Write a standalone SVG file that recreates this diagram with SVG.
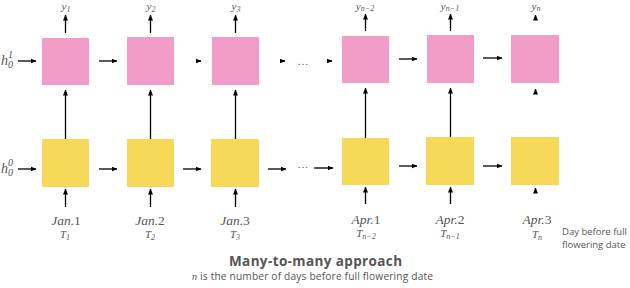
<svg xmlns="http://www.w3.org/2000/svg" width="630" height="288" viewBox="0 0 630 288">
<defs>
<marker id="ah" markerUnits="userSpaceOnUse" markerWidth="6" markerHeight="6" refX="5.5" refY="3" orient="auto">
<path d="M0,0.5 L6,3 L0,5.5 z" fill="#000"/>
</marker>
<style>
.pink{fill:#F29CC8}
.yel{fill:#F7D95A}
.ar{stroke:#000;stroke-width:1.3;fill:none;marker-end:url(#ah)}
.m{font-family:'Liberation Serif',serif;font-style:italic;fill:#555;text-anchor:middle}
.hl{font-family:'Liberation Serif',serif;font-style:italic;fill:#555;font-size:14px}
.lab{font-size:13.5px}
.sm{font-size:11px}
.sub{font-size:8px}
.hs{font-size:10px}
.up{font-style:normal}
.sans{font-family:'Open Sans','Noto Sans',sans-serif;fill:#555}
.dots{font-family:'Liberation Serif',serif;font-size:11px;fill:#555;text-anchor:middle}
</style>
</defs>
<rect width="630" height="288" fill="#fff"/>

<g id="h1"><text class="hl" x="1" y="65">h<tspan class="hs" dy="3">0</tspan><tspan class="hs" dx="-5" dy="-10">1</tspan></text></g>
<g id="h0"><text class="hl" x="1" y="173">h<tspan class="hs" dy="3">0</tspan><tspan class="hs" dx="-5" dy="-10">0</tspan></text></g>

<g id="p1"><rect class="pink" x="42" y="38" width="47" height="47"/></g>
<g id="p2"><rect class="pink" x="127" y="37" width="47" height="48"/></g>
<g id="p3"><rect class="pink" x="212" y="37" width="47" height="48"/></g>
<g id="p4"><rect class="pink" x="342" y="36" width="47" height="47"/></g>
<g id="p5"><rect class="pink" x="427" y="35" width="47" height="48"/></g>
<g id="p6"><rect class="pink" x="511" y="35" width="48" height="48"/></g>

<g id="y1"><rect class="yel" x="42" y="139" width="47" height="48"/></g>
<g id="y2"><rect class="yel" x="127" y="139" width="47" height="48"/></g>
<g id="y3"><rect class="yel" x="211" y="139" width="48" height="48"/></g>
<g id="y4"><rect class="yel" x="342" y="138" width="47" height="47"/></g>
<g id="y5"><rect class="yel" x="426" y="137" width="48" height="48"/></g>
<g id="y6"><rect class="yel" x="511" y="137" width="48" height="48"/></g>

<g id="connectors">
<line class="ar" x1="18" y1="61" x2="36" y2="61"/>
<line class="ar" x1="99" y1="61" x2="117" y2="61"/>
<line class="ar" x1="199" y1="61" x2="201" y2="61"/>
<line class="ar" x1="283" y1="61" x2="285" y2="61"/>
<line class="ar" x1="330" y1="61" x2="332" y2="61"/>
<line class="ar" x1="399" y1="59" x2="417" y2="59"/>
<line class="ar" x1="483" y1="58" x2="502" y2="58"/>
<line class="ar" x1="18" y1="169" x2="36" y2="169"/>
<line class="ar" x1="99" y1="169" x2="117" y2="169"/>
<line class="ar" x1="183" y1="169" x2="201" y2="169"/>
<line class="ar" x1="268" y1="169" x2="286" y2="169"/>
<line class="ar" x1="314" y1="168" x2="333" y2="168"/>
<line class="ar" x1="399" y1="166" x2="417" y2="166"/>
<line class="ar" x1="483" y1="166" x2="502" y2="166"/>
<line class="ar" x1="65.5" y1="139" x2="65.5" y2="90"/>
<line class="ar" x1="150.5" y1="139" x2="150.5" y2="90"/>
<line class="ar" x1="235.5" y1="139" x2="235.5" y2="90"/>
<line class="ar" x1="365.5" y1="138" x2="365.5" y2="88"/>
<line class="ar" x1="450.5" y1="137" x2="450.5" y2="88"/>
<line class="ar" x1="535.5" y1="92" x2="535.5" y2="89"/>
<line class="ar" x1="65.5" y1="33" x2="65.5" y2="15"/>
<line class="ar" x1="150.5" y1="33" x2="150.5" y2="15"/>
<line class="ar" x1="235.5" y1="33" x2="235.5" y2="15"/>
<line class="ar" x1="365.5" y1="31" x2="365.5" y2="14"/>
<line class="ar" x1="450.5" y1="31" x2="450.5" y2="14"/>
<line class="ar" x1="535.5" y1="18" x2="535.5" y2="15"/>
<line class="ar" x1="65.5" y1="207" x2="65.5" y2="189"/>
<line class="ar" x1="150.5" y1="207" x2="150.5" y2="189"/>
<line class="ar" x1="235.5" y1="207" x2="235.5" y2="189"/>
<line class="ar" x1="365.5" y1="204" x2="365.5" y2="187"/>
<line class="ar" x1="450.5" y1="204" x2="450.5" y2="187"/>
<line class="ar" x1="535.5" y1="191" x2="535.5" y2="188"/>
</g>

<text class="dots" x="303" y="65">…</text>
<text class="dots" x="303" y="168">…</text>

<text class="m sm" x="66" y="10">y<tspan class="sub" dy="2">1</tspan></text>
<text class="m sm" x="151" y="10">y<tspan class="sub" dy="2">2</tspan></text>
<text class="m sm" x="236" y="10">y<tspan class="sub" dy="2">3</tspan></text>
<text class="m sm" x="365" y="10">y<tspan class="sub" dy="1">n−2</tspan></text>
<text class="m sm" x="450" y="10">y<tspan class="sub" dy="1">n−1</tspan></text>
<text class="m sm" x="536" y="10">y<tspan class="sub" dy="1">n</tspan></text>

<text class="m lab" x="66" y="225">Jan.<tspan class="up">1</tspan></text>
<text class="m lab" x="150" y="225">Jan.<tspan class="up">2</tspan></text>
<text class="m lab" x="235" y="225">Jan.<tspan class="up">3</tspan></text>
<text class="m lab" x="366" y="224">Apr.<tspan class="up">1</tspan></text>
<text class="m lab" x="450" y="224">Apr.<tspan class="up">2</tspan></text>
<text class="m lab" x="537" y="224">Apr.<tspan class="up">3</tspan></text>

<text class="m sm" x="65" y="238">T<tspan class="sub" dy="2">1</tspan></text>
<text class="m sm" x="150" y="238">T<tspan class="sub" dy="2">2</tspan></text>
<text class="m sm" x="235" y="238">T<tspan class="sub" dy="2">3</tspan></text>
<text class="m sm" x="366" y="237">T<tspan class="sub" dy="2">n−2</tspan></text>
<text class="m sm" x="450" y="237">T<tspan class="sub" dy="2">n−1</tspan></text>
<text class="m sm" x="537" y="238">T<tspan class="sub" dy="2">n</tspan></text>

<text class="sans" x="562" y="235" font-size="9.5">Day before full</text>
<text class="sans" x="562" y="248" font-size="9.5">flowering date</text>

<text class="sans" x="229" y="266" font-size="13.5" font-weight="bold" textLength="173" lengthAdjust="spacing">Many-to-many approach</text>
<text class="sans" x="192" y="280" font-size="10.2" textLength="241" lengthAdjust="spacing"><tspan font-family="Liberation Serif, serif" font-style="italic">n</tspan> is the number of days before full flowering date</text>
</svg>
